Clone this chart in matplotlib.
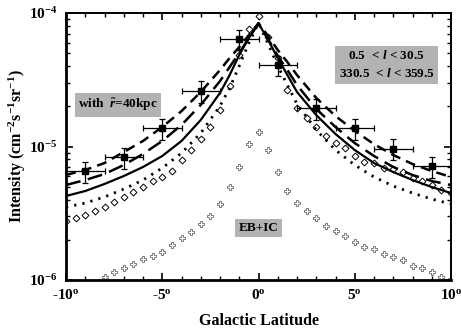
import matplotlib
matplotlib.use("Agg")
import matplotlib.pyplot as plt
import numpy as np

plt.rcParams['font.family'] = ['Liberation Serif', 'DejaVu Serif']
plt.rcParams['font.weight'] = 'bold'
plt.rcParams['mathtext.fontset'] = 'custom'
plt.rcParams['mathtext.rm'] = 'Liberation Serif:bold'
plt.rcParams['mathtext.bf'] = 'Liberation Serif:bold'
plt.rcParams['mathtext.it'] = 'Liberation Serif:italic:bold'

# model curves
line_x = [-10, -9, -8, -7, -6, -5, -4, -3, -2, -1.5, -1, -0.5, 0,
          0.5, 1, 1.5, 2, 3, 4, 5, 6, 7, 8, 9, 10]
solid_y = [4.26e-6, 4.64e-6, 5.24e-6, 6.01e-6, 7.02e-6, 8.49e-6, 1.10e-5, 1.58e-5,
           2.52e-5, 3.43e-5, 4.85e-5, 6.50e-5, 8.37e-5, 6.28e-5, 4.60e-5, 3.43e-5,
           2.56e-5, 1.72e-5, 1.24e-5, 9.41e-6, 7.52e-6, 6.44e-6, 5.61e-6, 4.97e-6, 4.48e-6]
dotted_y = [3.52e-6, 3.77e-6, 4.19e-6, 4.80e-6, 5.61e-6, 6.90e-6, 8.94e-6, 1.26e-5,
            2.01e-5, 2.74e-5, 4.01e-5, 5.96e-5, 8.37e-5, 5.86e-5, 4.01e-5, 2.89e-5,
            2.08e-5, 1.33e-5, 9.41e-6, 7.27e-6, 5.91e-6, 5.06e-6, 4.48e-6, 4.04e-6, 3.71e-6]
longdash_y = [5.15e-6, 5.61e-6, 6.22e-6, 7.27e-6, 8.79e-6, 1.10e-5, 1.45e-5, 2.05e-5,
              3.09e-5, 3.94e-5, 5.02e-5, 6.50e-5, 8.37e-5, 6.39e-5, 4.76e-5, 3.74e-5,
              2.89e-5, 1.91e-5, 1.40e-5, 1.06e-5, 8.49e-6, 7.02e-6, 6.12e-6, 5.51e-6, 5.15e-6]
shortdash_y = [6.12e-6, 6.67e-6, 7.52e-6, 9.09e-6, 1.10e-5, 1.40e-5, 1.84e-5, 2.56e-5,
               3.74e-5, 4.60e-5, 5.56e-5, 6.84e-5, 8.37e-5, 6.73e-5, 5.28e-5, 4.29e-5,
               3.43e-5, 2.31e-5, 1.69e-5, 1.31e-5, 1.04e-5, 8.64e-6, 7.39e-6, 6.55e-6, 5.91e-6]

# open diamonds
diam_x = [-10, -9.5, -9, -8.5, -8, -7.5, -7, -6.5, -6, -5.5, -5, -4.5, -4, -3.5, -3,
          -2.5, -2, -1.5, -1, -0.5, 0, 0.5, 1, 1.5, 2, 2.5, 3, 3.5, 4, 4.5, 5, 5.5,
          6, 6.5, 7, 7.5, 8, 8.5, 9, 9.5, 10]
diam_y = [2.77e-6, 2.90e-6, 3.07e-6, 3.30e-6, 3.54e-6, 3.86e-6, 4.16e-6, 4.58e-6,
          5.00e-6, 5.54e-6, 5.94e-6, 6.50e-6, 7.92e-6, 9.41e-6, 1.14e-5, 1.40e-5,
          1.88e-5, 2.84e-5, 4.85e-5, 7.55e-5, 9.55e-5, 6.64e-5, 4.60e-5, 2.65e-5,
          1.93e-5, 1.64e-5, 1.41e-5, 1.20e-5, 1.07e-5, 9.80e-6, 8.50e-6, 7.70e-6,
          7.48e-6, 6.87e-6, 6.78e-6, 6.48e-6, 5.84e-6, 5.54e-6, 5.15e-6, 4.72e-6, 4.46e-6]

# EB+IC crosses
cross_x = [-8, -7.5, -7, -6.5, -6, -5.5, -5, -4.5, -4, -3.5, -3, -2.5, -2, -1.5, -1,
           -0.5, 0, 0.5, 1, 1.5, 2, 2.5, 3, 3.5, 4, 4.5, 5, 5.5, 6, 6.5, 7, 7.5, 8,
           8.5, 9, 9.5, 10]
cross_y = [1.06e-6, 1.15e-6, 1.22e-6, 1.32e-6, 1.43e-6, 1.52e-6, 1.63e-6, 1.83e-6,
           2.05e-6, 2.30e-6, 2.63e-6, 3.02e-6, 3.71e-6, 4.95e-6, 6.98e-6, 1.04e-5,
           1.28e-5, 9.40e-6, 6.48e-6, 4.67e-6, 3.76e-6, 3.30e-6, 2.93e-6, 2.55e-6,
           2.34e-6, 2.15e-6, 1.92e-6, 1.77e-6, 1.70e-6, 1.56e-6, 1.48e-6, 1.41e-6,
           1.27e-6, 1.22e-6, 1.15e-6, 1.06e-6, 1.02e-6]

# data points
data_x = [-9, -7, -5, -3, -1, 1, 3, 5, 7, 9]
data_y = [6.5e-6, 8.3e-6, 1.37e-5, 2.6e-5, 6.4e-5, 4.1e-5, 1.93e-5, 1.37e-5, 9.6e-6, 7.1e-6]
data_yerr = [1.2e-6, 1.5e-6, 2.5e-6, 5.0e-6, 1.1e-5, 7.0e-6, 3.5e-6, 2.5e-6, 1.7e-6, 1.3e-6]
data_xerr = [1, 1, 1, 1, 1, 1, 1, 1, 1, 1]

x_ticks = [-10, -5, 0, 5, 10]
x_ticklabels = ['-10$^{\\mathrm{o}}$', '-5$^{\\mathrm{o}}$', '0$^{\\mathrm{o}}$',
                '5$^{\\mathrm{o}}$', '10$^{\\mathrm{o}}$']
y_ticks = [1e-6, 1e-5, 1e-4]
y_ticklabels = ['10$^{-6}$', '10$^{-5}$', '10$^{-4}$']

fig = plt.figure(figsize=(4.61, 3.32), dpi=100)
ax = fig.add_axes([66/461, 1-280/332, (451-66)/461, (280-13)/332])

ax.plot(cross_x, cross_y, linestyle='none', marker='P', ms=4.2, mfc='white',
        mec='#666666', mew=0.6, zorder=2)
ax.plot(diam_x, diam_y, linestyle='none', marker='D', ms=3.5, mfc='white',
        mec='black', mew=0.7, zorder=2)
ax.plot(line_x, dotted_y, color='black', lw=2.0, linestyle=(0, (0.8, 2.2)), zorder=3)
ax.plot(line_x, solid_y, color='black', lw=1.6, linestyle='-', zorder=3)
ax.plot(line_x, longdash_y, color='black', lw=1.8, linestyle=(0, (6, 3)), zorder=3)
ax.plot(line_x, shortdash_y, color='black', lw=1.8, linestyle=(0, (4, 2.5)), zorder=3)
ax.errorbar(data_x, data_y, xerr=data_xerr, yerr=data_yerr, fmt='s', color='black',
            ms=5, elinewidth=0.9, capsize=2, capthick=0.9, zorder=4)

ax.set_yscale('log')
ax.set_xlim(-10, 10)
ax.set_ylim(1e-6, 1e-4)
ax.set_xticks(x_ticks)
ax.set_xticklabels(x_ticklabels, fontsize=11, fontweight='bold')
ax.set_xticks(np.arange(-10, 11, 1), minor=True)
ax.set_yticks(y_ticks)
ax.set_yticklabels(y_ticklabels, fontsize=11, fontweight='bold')
ax.tick_params(which='both', direction='in', top=True, right=True)
ax.tick_params(which='major', length=5, width=1.2, pad=6)
ax.tick_params(which='minor', length=3, width=1.0)
ax.tick_params(axis='y', which='minor', labelleft=False)
for side in ['left', 'bottom']:
    ax.spines[side].set_linewidth(2.0)
for side in ['top', 'right']:
    ax.spines[side].set_linewidth(1.4)

ax.set_xlabel('Galactic Latitude', fontsize=11.5, fontweight='bold', labelpad=8)
ax.set_ylabel('Intensity (cm$^{-2}$s$^{-1}$sr$^{-1}$)', fontsize=11.5,
              fontweight='bold', labelpad=1)

box = dict(facecolor='#b3b3b3', edgecolor='none', pad=2.5)
ax.text(-7.3, 2.05e-5, 'with  $\\tilde{\\mathit{r}}$=40kpc', fontsize=9.5,
        fontweight='bold', ha='center', va='center', bbox=box, zorder=5)
ax.text(6.65, 4.1e-5, '0.5  < $\\mathit{l}$ < 30.5\n330.5  < $\\mathit{l}$ < 359.5',
        fontsize=9.5, fontweight='bold', ha='center', va='center', bbox=box,
        linespacing=1.5, zorder=5)
ax.text(0.0, 2.45e-6, 'EB+IC', fontsize=9.5, fontweight='bold', ha='center',
        va='center', bbox=box, zorder=5)

fig.savefig('out.png', dpi=100)
